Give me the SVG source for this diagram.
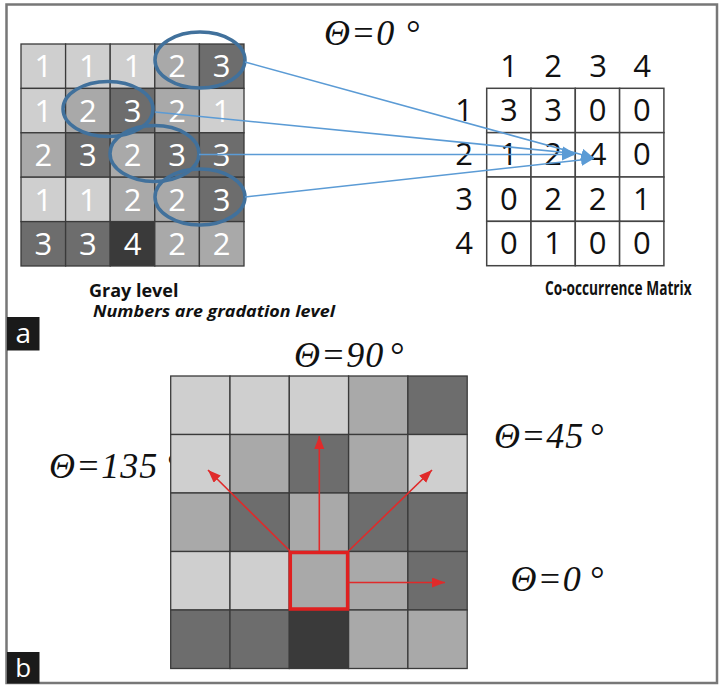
<svg xmlns="http://www.w3.org/2000/svg" width="722" height="686" viewBox="0 0 722 686">
<style>
.L{fill:#cfcfcf}.M{fill:#a9a9a9}.D{fill:#6d6d6d}.V{fill:#3a3a3a}
.cell rect{stroke:#3a3a3a;stroke-width:1.3}
.wd{font-family:"Open Sans","Liberation Sans",sans-serif;font-size:31px;fill:#fff;text-anchor:middle}
.bd{font-family:"Open Sans","Liberation Sans",sans-serif;font-size:31px;fill:#111;text-anchor:middle}
.th{font-family:"Liberation Serif","Times New Roman",serif;font-style:italic;font-size:36px;fill:#111;letter-spacing:1px}
.lbl{font-family:"Open Sans","Liberation Sans",sans-serif;font-weight:bold;fill:#111}
.ell{fill:none;stroke:#41719c;stroke-width:3.5}
.bl{stroke:#5b9bd5;stroke-width:1.6;fill:none;marker-end:url(#ab)}
.rl{stroke:#e02a2a;stroke-width:1.6;fill:none;marker-end:url(#ar)}
.mx rect{fill:#fff;stroke:#444;stroke-width:1.5}
</style>
<defs>
<marker id="ab" markerUnits="userSpaceOnUse" markerWidth="14" markerHeight="12" refX="13" refY="6" orient="auto"><path d="M0,0 L13,6 L0,12 z" fill="#5b9bd5"/></marker>
<marker id="ar" markerUnits="userSpaceOnUse" markerWidth="14" markerHeight="11" refX="13" refY="5" orient="auto"><path d="M0,0 L13,5 L0,10 z" fill="#e02a2a"/></marker>
</defs>
<rect x="0" y="0" width="722" height="686" fill="#fff"/>
<rect x="6.5" y="4.5" width="710.5" height="678.5" fill="none" stroke="#777" stroke-width="2.5"/>

<!-- Panel a: gray level grid -->
<g id="gray-grid" class="cell">
<rect class="L" x="21" y="44" width="44.6" height="44.4"/><rect class="L" x="65.6" y="44" width="44.6" height="44.4"/><rect class="L" x="110.2" y="44" width="44.6" height="44.4"/><rect class="M" x="154.8" y="44" width="44.6" height="44.4"/><rect class="D" x="199.4" y="44" width="44.6" height="44.4"/>
<rect class="L" x="21" y="88.4" width="44.6" height="44.4"/><rect class="M" x="65.6" y="88.4" width="44.6" height="44.4"/><rect class="D" x="110.2" y="88.4" width="44.6" height="44.4"/><rect class="M" x="154.8" y="88.4" width="44.6" height="44.4"/><rect class="L" x="199.4" y="88.4" width="44.6" height="44.4"/>
<rect class="M" x="21" y="132.8" width="44.6" height="44.4"/><rect class="D" x="65.6" y="132.8" width="44.6" height="44.4"/><rect class="M" x="110.2" y="132.8" width="44.6" height="44.4"/><rect class="D" x="154.8" y="132.8" width="44.6" height="44.4"/><rect class="D" x="199.4" y="132.8" width="44.6" height="44.4"/>
<rect class="L" x="21" y="177.2" width="44.6" height="44.4"/><rect class="L" x="65.6" y="177.2" width="44.6" height="44.4"/><rect class="M" x="110.2" y="177.2" width="44.6" height="44.4"/><rect class="M" x="154.8" y="177.2" width="44.6" height="44.4"/><rect class="D" x="199.4" y="177.2" width="44.6" height="44.4"/>
<rect class="D" x="21" y="221.6" width="44.6" height="44.4"/><rect class="D" x="65.6" y="221.6" width="44.6" height="44.4"/><rect class="V" x="110.2" y="221.6" width="44.6" height="44.4"/><rect class="M" x="154.8" y="221.6" width="44.6" height="44.4"/><rect class="M" x="199.4" y="221.6" width="44.6" height="44.4"/>
<g class="wd">
<text x="43.3" y="77.3">1</text><text x="87.9" y="77.3">1</text><text x="132.5" y="77.3">1</text><text x="177.1" y="77.3">2</text><text x="221.7" y="77.3">3</text>
<text x="43.3" y="121.7">1</text><text x="87.9" y="121.7">2</text><text x="132.5" y="121.7">3</text><text x="177.1" y="121.7">2</text><text x="221.7" y="121.7">1</text>
<text x="43.3" y="166.1">2</text><text x="87.9" y="166.1">3</text><text x="132.5" y="166.1">2</text><text x="177.1" y="166.1">3</text><text x="221.7" y="166.1">3</text>
<text x="43.3" y="210.5">1</text><text x="87.9" y="210.5">1</text><text x="132.5" y="210.5">2</text><text x="177.1" y="210.5">2</text><text x="221.7" y="210.5">3</text>
<text x="43.3" y="254.9">3</text><text x="87.9" y="254.9">3</text><text x="132.5" y="254.9">4</text><text x="177.1" y="254.9">2</text><text x="221.7" y="254.9">2</text>
</g>
</g>
<g id="pairs">
<ellipse class="ell" cx="200" cy="60" rx="45" ry="28"/>
<ellipse class="ell" cx="108" cy="109" rx="45" ry="27.5"/>
<ellipse class="ell" cx="154.5" cy="153.5" rx="44.5" ry="28"/>
<ellipse class="ell" cx="200" cy="197" rx="45" ry="28"/>
</g>
<g id="gray-label">
<text class="lbl" x="89" y="296.5" font-size="18">Gray level</text>
<text class="lbl" x="93" y="317" font-size="16.5" font-style="italic" textLength="242" lengthAdjust="spacingAndGlyphs">Numbers are gradation level</text>
</g>

<!-- co-occurrence matrix -->
<g id="cooc-matrix">
<g class="mx">
<rect x="486.7" y="88.3" width="44.3" height="44.35"/><rect x="531" y="88.3" width="44.3" height="44.35"/><rect x="575.3" y="88.3" width="44.3" height="44.35"/><rect x="619.6" y="88.3" width="44.3" height="44.35"/>
<rect x="486.7" y="132.65" width="44.3" height="44.35"/><rect x="531" y="132.65" width="44.3" height="44.35"/><rect x="575.3" y="132.65" width="44.3" height="44.35"/><rect x="619.6" y="132.65" width="44.3" height="44.35"/>
<rect x="486.7" y="177" width="44.3" height="44.35"/><rect x="531" y="177" width="44.3" height="44.35"/><rect x="575.3" y="177" width="44.3" height="44.35"/><rect x="619.6" y="177" width="44.3" height="44.35"/>
<rect x="486.7" y="221.35" width="44.3" height="44.35"/><rect x="531" y="221.35" width="44.3" height="44.35"/><rect x="575.3" y="221.35" width="44.3" height="44.35"/><rect x="619.6" y="221.35" width="44.3" height="44.35"/>
</g>
<g class="bd">
<text x="509" y="77.3">1</text><text x="553" y="77.3">2</text><text x="598" y="77.3">3</text><text x="642" y="77.3">4</text>
<text x="464" y="121">1</text><text x="464" y="165.3">2</text><text x="464" y="209.7">3</text><text x="464" y="254">4</text>
<text x="508.8" y="121">3</text><text x="553.2" y="121">3</text><text x="597.5" y="121">0</text><text x="641.8" y="121">0</text>
<text x="508.8" y="165.3">1</text><text x="553.2" y="165.3">2</text><text x="597.5" y="165.3">4</text><text x="641.8" y="165.3">0</text>
<text x="508.8" y="209.7">0</text><text x="553.2" y="209.7">2</text><text x="597.5" y="209.7">2</text><text x="641.8" y="209.7">1</text>
<text x="508.8" y="254">0</text><text x="553.2" y="254">1</text><text x="597.5" y="254">0</text><text x="641.8" y="254">0</text>
</g>
<text class="lbl" transform="translate(545,295) scale(0.72,1)" font-size="19">Co-occurrence Matrix</text>
</g>

<g id="theta-0-top"><text class="th" x="324" y="45">Θ=0<tspan x="405">°</tspan></text></g>

<g id="connectors-a">
<line class="bl" x1="245" y1="62" x2="594" y2="158"/>
<line class="bl" x1="155" y1="112" x2="575" y2="153.5"/>
<line class="bl" x1="199" y1="154.5" x2="575" y2="154.5"/>
<line class="bl" x1="245" y1="197" x2="594" y2="158.5"/>
</g>

<g id="label-a"><rect x="7" y="317" width="32.5" height="33.5" fill="#1a1a1a"/><text x="23.3" y="343" font-family="Open Sans, Liberation Sans, sans-serif" font-size="28" fill="#fff" text-anchor="middle">a</text></g>

<!-- Panel b -->
<g id="theta-labels-b">
<text class="th" x="294" y="367">Θ=90<tspan x="389">°</tspan></text>
<text class="th" x="49" y="478">Θ=135<tspan x="166">°</tspan></text>
<text class="th" x="494" y="447.5">Θ=45<tspan x="589">°</tspan></text>
<text class="th" x="510.5" y="590.5">Θ=0<tspan x="589">°</tspan></text>
</g>
<g id="pixel-grid" class="cell">
<rect class="L" x="170.7" y="376" width="59.3" height="58.5"/><rect class="L" x="230" y="376" width="59.3" height="58.5"/><rect class="L" x="289.3" y="376" width="59.3" height="58.5"/><rect class="M" x="348.6" y="376" width="59.3" height="58.5"/><rect class="D" x="407.9" y="376" width="59.3" height="58.5"/>
<rect class="L" x="170.7" y="434.5" width="59.3" height="58.5"/><rect class="M" x="230" y="434.5" width="59.3" height="58.5"/><rect class="D" x="289.3" y="434.5" width="59.3" height="58.5"/><rect class="M" x="348.6" y="434.5" width="59.3" height="58.5"/><rect class="L" x="407.9" y="434.5" width="59.3" height="58.5"/>
<rect class="M" x="170.7" y="493" width="59.3" height="58.5"/><rect class="D" x="230" y="493" width="59.3" height="58.5"/><rect class="M" x="289.3" y="493" width="59.3" height="58.5"/><rect class="D" x="348.6" y="493" width="59.3" height="58.5"/><rect class="D" x="407.9" y="493" width="59.3" height="58.5"/>
<rect class="L" x="170.7" y="551.5" width="59.3" height="58.5"/><rect class="L" x="230" y="551.5" width="59.3" height="58.5"/><rect class="M" x="289.3" y="551.5" width="59.3" height="58.5"/><rect class="M" x="348.6" y="551.5" width="59.3" height="58.5"/><rect class="D" x="407.9" y="551.5" width="59.3" height="58.5"/>
<rect class="D" x="170.7" y="610" width="59.3" height="58.5"/><rect class="D" x="230" y="610" width="59.3" height="58.5"/><rect class="V" x="289.3" y="610" width="59.3" height="58.5"/><rect class="M" x="348.6" y="610" width="59.3" height="58.5"/><rect class="M" x="407.9" y="610" width="59.3" height="58.5"/>
</g>
<g id="center-pixel"><rect x="290.3" y="552.5" width="57.3" height="56.5" fill="none" stroke="#e02020" stroke-width="3.5"/></g>
<g id="connectors-b">
<line class="rl" x1="319.3" y1="551" x2="319.3" y2="436" stroke-width="2"/>
<line class="rl" x1="290" y1="551" x2="208" y2="470"/>
<line class="rl" x1="348.5" y1="551" x2="432" y2="470"/>
<line class="rl" x1="348.5" y1="582.5" x2="445" y2="582.5"/>
</g>
<g id="label-b"><rect x="7" y="652" width="32.5" height="31.5" fill="#1a1a1a"/><text x="23.3" y="677" font-family="Open Sans, Liberation Sans, sans-serif" font-size="26" fill="#fff" text-anchor="middle">b</text></g>
</svg>
